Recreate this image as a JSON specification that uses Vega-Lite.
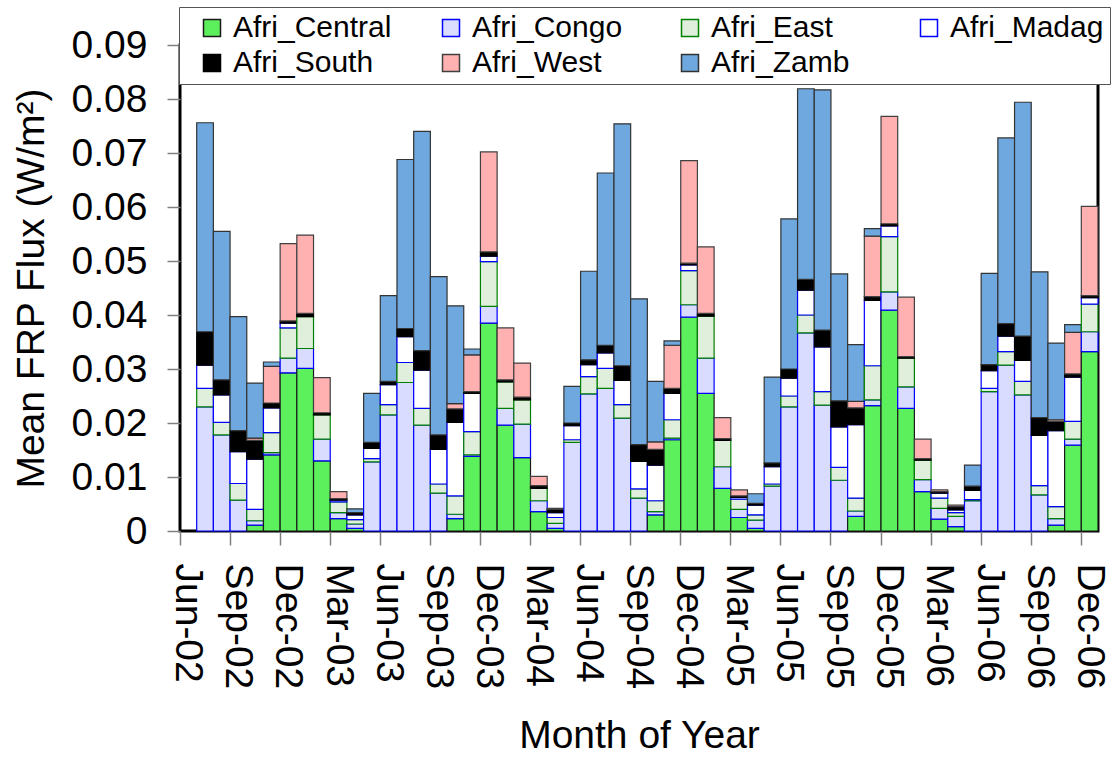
{
  "$schema": "https://vega.github.io/schema/vega-lite/v6.json",
  "width": 918,
  "height": 486,
  "autosize": {"type": "none"},
  "padding": {"left": 180, "top": 45, "right": 13, "bottom": 229},
  "background": "white",
  "config": {
    "font": "Liberation Sans",
    "view": {"stroke": "#000000", "strokeWidth": 3},
    "axis": {"grid": false, "domain": false, "labelFont": "Liberation Sans", "titleFont": "Liberation Sans", "labelColor": "#000000", "titleColor": "#000000", "titleFontWeight": "normal", "tickColor": "#808080", "tickWidth": 1.5}
  },
  "data": {"values": [
    {"month": "Jul-02", "Afri_Congo": 0.0230, "Afri_East": 0.0034, "Afri_Madag": 0.0043, "Afri_South": 0.0062, "Afri_Zamb": 0.0387},
    {"month": "Aug-02", "Afri_Congo": 0.0178, "Afri_East": 0.0023, "Afri_Madag": 0.0051, "Afri_South": 0.0028, "Afri_Zamb": 0.0275},
    {"month": "Sep-02", "Afri_Congo": 0.0057, "Afri_East": 0.0031, "Afri_Madag": 0.0059, "Afri_South": 0.0039, "Afri_Zamb": 0.0211},
    {"month": "Oct-02", "Afri_Central": 0.0011, "Afri_Congo": 0.0008, "Afri_East": 0.0021, "Afri_Madag": 0.0093, "Afri_South": 0.0035, "Afri_West": 0.0004, "Afri_Zamb": 0.0102},
    {"month": "Nov-02", "Afri_Central": 0.0141, "Afri_Congo": 0.0004, "Afri_East": 0.0037, "Afri_Madag": 0.0046, "Afri_South": 0.0009, "Afri_West": 0.0068, "Afri_Zamb": 0.0008},
    {"month": "Dec-02", "Afri_Central": 0.0293, "Afri_Congo": 0.0027, "Afri_East": 0.0056, "Afri_Madag": 0.0009, "Afri_South": 0.0004, "Afri_West": 0.0143},
    {"month": "Jan-03", "Afri_Central": 0.0301, "Afri_Congo": 0.0037, "Afri_East": 0.0059, "Afri_South": 0.0006, "Afri_West": 0.0145},
    {"month": "Feb-03", "Afri_Central": 0.0130, "Afri_Congo": 0.0040, "Afri_East": 0.0045, "Afri_South": 0.0004, "Afri_West": 0.0065},
    {"month": "Mar-03", "Afri_Central": 0.0023, "Afri_Congo": 0.0011, "Afri_East": 0.0020, "Afri_Madag": 0.0003, "Afri_South": 0.0003, "Afri_West": 0.0013},
    {"month": "Apr-03", "Afri_Central": 0.0005, "Afri_Congo": 0.0008, "Afri_East": 0.0008, "Afri_Madag": 0.0009, "Afri_South": 0.0004, "Afri_Zamb": 0.0007},
    {"month": "May-03", "Afri_Congo": 0.0128, "Afri_East": 0.0006, "Afri_Madag": 0.0019, "Afri_South": 0.0011, "Afri_Zamb": 0.0091},
    {"month": "Jun-03", "Afri_Congo": 0.0215, "Afri_East": 0.0019, "Afri_Madag": 0.0037, "Afri_South": 0.0006, "Afri_Zamb": 0.0159},
    {"month": "Jul-03", "Afri_Congo": 0.0275, "Afri_East": 0.0037, "Afri_Madag": 0.0048, "Afri_South": 0.0015, "Afri_Zamb": 0.0313},
    {"month": "Aug-03", "Afri_Congo": 0.0196, "Afri_East": 0.0031, "Afri_Madag": 0.0071, "Afri_South": 0.0036, "Afri_Zamb": 0.0406},
    {"month": "Sep-03", "Afri_Congo": 0.0070, "Afri_East": 0.0017, "Afri_Madag": 0.0064, "Afri_South": 0.0027, "Afri_Zamb": 0.0293},
    {"month": "Oct-03", "Afri_Central": 0.0023, "Afri_Congo": 0.0008, "Afri_East": 0.0034, "Afri_Madag": 0.0136, "Afri_South": 0.0025, "Afri_West": 0.0010, "Afri_Zamb": 0.0181},
    {"month": "Nov-03", "Afri_Central": 0.0138, "Afri_Congo": 0.0003, "Afri_East": 0.0043, "Afri_Madag": 0.0071, "Afri_South": 0.0003, "Afri_West": 0.0068, "Afri_Zamb": 0.0011},
    {"month": "Dec-03", "Afri_Central": 0.0385, "Afri_Congo": 0.0031, "Afri_East": 0.0083, "Afri_Madag": 0.0010, "Afri_South": 0.0008, "Afri_West": 0.0185},
    {"month": "Jan-04", "Afri_Central": 0.0196, "Afri_Congo": 0.0031, "Afri_East": 0.0049, "Afri_South": 0.0004, "Afri_West": 0.0096},
    {"month": "Feb-04", "Afri_Central": 0.0136, "Afri_Congo": 0.0062, "Afri_East": 0.0045, "Afri_South": 0.0005, "Afri_West": 0.0063},
    {"month": "Mar-04", "Afri_Central": 0.0036, "Afri_Congo": 0.0020, "Afri_East": 0.0023, "Afri_South": 0.0005, "Afri_West": 0.0017},
    {"month": "Apr-04", "Afri_Central": 0.0005, "Afri_Congo": 0.0009, "Afri_East": 0.0011, "Afri_Madag": 0.0009, "Afri_South": 0.0006, "Afri_West": 0.0002},
    {"month": "May-04", "Afri_Congo": 0.0164, "Afri_East": 0.0005, "Afri_Madag": 0.0026, "Afri_South": 0.0005, "Afri_Zamb": 0.0068},
    {"month": "Jun-04", "Afri_Congo": 0.0254, "Afri_East": 0.0032, "Afri_Madag": 0.0022, "Afri_South": 0.0009, "Afri_Zamb": 0.0164},
    {"month": "Jul-04", "Afri_Congo": 0.0264, "Afri_East": 0.0037, "Afri_Madag": 0.0029, "Afri_South": 0.0014, "Afri_Zamb": 0.0319},
    {"month": "Aug-04", "Afri_Congo": 0.0209, "Afri_East": 0.0025, "Afri_Madag": 0.0045, "Afri_South": 0.0027, "Afri_Zamb": 0.0448},
    {"month": "Sep-04", "Afri_Congo": 0.0061, "Afri_East": 0.0017, "Afri_Madag": 0.0051, "Afri_South": 0.0031, "Afri_Zamb": 0.0270},
    {"month": "Oct-04", "Afri_Central": 0.0030, "Afri_Congo": 0.0006, "Afri_East": 0.0020, "Afri_Madag": 0.0066, "Afri_South": 0.0029, "Afri_West": 0.0014, "Afri_Zamb": 0.0112},
    {"month": "Nov-04", "Afri_Central": 0.0169, "Afri_Congo": 0.0003, "Afri_East": 0.0034, "Afri_Madag": 0.0049, "Afri_South": 0.0009, "Afri_West": 0.0080, "Afri_Zamb": 0.0008},
    {"month": "Dec-04", "Afri_Central": 0.0396, "Afri_Congo": 0.0023, "Afri_East": 0.0063, "Afri_Madag": 0.0011, "Afri_South": 0.0003, "Afri_West": 0.0190},
    {"month": "Jan-05", "Afri_Central": 0.0255, "Afri_Congo": 0.0065, "Afri_East": 0.0078, "Afri_South": 0.0005, "Afri_West": 0.0123},
    {"month": "Feb-05", "Afri_Central": 0.0079, "Afri_Congo": 0.0040, "Afri_East": 0.0049, "Afri_South": 0.0003, "Afri_West": 0.0039},
    {"month": "Mar-05", "Afri_Central": 0.0025, "Afri_Congo": 0.0015, "Afri_East": 0.0019, "Afri_Madag": 0.0003, "Afri_South": 0.0003, "Afri_West": 0.0011},
    {"month": "Apr-05", "Afri_Central": 0.0005, "Afri_Congo": 0.0015, "Afri_East": 0.0010, "Afri_Madag": 0.0018, "Afri_South": 0.0003, "Afri_Zamb": 0.0018},
    {"month": "May-05", "Afri_Congo": 0.0083, "Afri_East": 0.0004, "Afri_Madag": 0.0032, "Afri_South": 0.0007, "Afri_Zamb": 0.0159},
    {"month": "Jun-05", "Afri_Congo": 0.0230, "Afri_East": 0.0020, "Afri_Madag": 0.0033, "Afri_South": 0.0017, "Afri_Zamb": 0.0278},
    {"month": "Jul-05", "Afri_Congo": 0.0367, "Afri_East": 0.0033, "Afri_Madag": 0.0046, "Afri_South": 0.0020, "Afri_Zamb": 0.0353},
    {"month": "Aug-05", "Afri_Congo": 0.0233, "Afri_East": 0.0025, "Afri_Madag": 0.0083, "Afri_South": 0.0031, "Afri_Zamb": 0.0445},
    {"month": "Sep-05", "Afri_Congo": 0.0094, "Afri_East": 0.0024, "Afri_Madag": 0.0075, "Afri_South": 0.0048, "Afri_Zamb": 0.0235},
    {"month": "Oct-05", "Afri_Central": 0.0027, "Afri_Congo": 0.0010, "Afri_East": 0.0024, "Afri_Madag": 0.0136, "Afri_South": 0.0031, "Afri_West": 0.0012, "Afri_Zamb": 0.0105},
    {"month": "Nov-05", "Afri_Central": 0.0232, "Afri_Congo": 0.0011, "Afri_East": 0.0063, "Afri_Madag": 0.0121, "Afri_South": 0.0007, "Afri_West": 0.0112, "Afri_Zamb": 0.0014},
    {"month": "Dec-05", "Afri_Central": 0.0409, "Afri_Congo": 0.0034, "Afri_East": 0.0102, "Afri_Madag": 0.0020, "Afri_South": 0.0004, "Afri_West": 0.0199},
    {"month": "Jan-06", "Afri_Central": 0.0227, "Afri_Congo": 0.0040, "Afri_East": 0.0053, "Afri_South": 0.0003, "Afri_West": 0.0110},
    {"month": "Feb-06", "Afri_Central": 0.0073, "Afri_Congo": 0.0022, "Afri_East": 0.0036, "Afri_South": 0.0003, "Afri_West": 0.0036},
    {"month": "Mar-06", "Afri_Central": 0.0022, "Afri_Congo": 0.0020, "Afri_East": 0.0019, "Afri_Madag": 0.0009, "Afri_South": 0.0003, "Afri_West": 0.0003},
    {"month": "Apr-06", "Afri_Central": 0.0008, "Afri_Congo": 0.0019, "Afri_East": 0.0007, "Afri_Madag": 0.0005, "Afri_South": 0.0006, "Afri_West": 0.0003},
    {"month": "May-06", "Afri_Congo": 0.0056, "Afri_East": 0.0002, "Afri_Madag": 0.0017, "Afri_South": 0.0008, "Afri_Zamb": 0.0039},
    {"month": "Jun-06", "Afri_Congo": 0.0258, "Afri_East": 0.0006, "Afri_Madag": 0.0033, "Afri_South": 0.0011, "Afri_Zamb": 0.0169},
    {"month": "Jul-06", "Afri_Congo": 0.0307, "Afri_East": 0.0025, "Afri_Madag": 0.0029, "Afri_South": 0.0023, "Afri_Zamb": 0.0344},
    {"month": "Aug-06", "Afri_Congo": 0.0252, "Afri_East": 0.0025, "Afri_Madag": 0.0039, "Afri_South": 0.0045, "Afri_Zamb": 0.0433},
    {"month": "Sep-06", "Afri_Congo": 0.0067, "Afri_East": 0.0017, "Afri_Madag": 0.0093, "Afri_South": 0.0033, "Afri_Zamb": 0.0270},
    {"month": "Oct-06", "Afri_Central": 0.0011, "Afri_Congo": 0.0012, "Afri_East": 0.0022, "Afri_Madag": 0.0141, "Afri_South": 0.0017, "Afri_West": 0.0003, "Afri_Zamb": 0.0142},
    {"month": "Nov-06", "Afri_Central": 0.0159, "Afri_Congo": 0.0011, "Afri_East": 0.0033, "Afri_Madag": 0.0082, "Afri_South": 0.0006, "Afri_West": 0.0077, "Afri_Zamb": 0.0014},
    {"month": "Dec-06", "Afri_Central": 0.0332, "Afri_Congo": 0.0037, "Afri_East": 0.0051, "Afri_Madag": 0.0012, "Afri_South": 0.0004, "Afri_West": 0.0165}
  ]},
  "transform": [
    {"fold": ["Afri_Central", "Afri_Congo", "Afri_East", "Afri_Madag", "Afri_South", "Afri_West", "Afri_Zamb"], "as": ["region", "flux"]},
    {"filter": "isValid(datum.flux) && datum.flux > 0"}
  ],
  "mark": {"type": "bar", "strokeWidth": 1.2},
  "encoding": {
    "x": {
      "field": "month", "type": "ordinal",
      "scale": {"domain": ["Jun-02","Jul-02","Aug-02","Sep-02","Oct-02","Nov-02","Dec-02","Jan-03","Feb-03","Mar-03","Apr-03","May-03","Jun-03","Jul-03","Aug-03","Sep-03","Oct-03","Nov-03","Dec-03","Jan-04","Feb-04","Mar-04","Apr-04","May-04","Jun-04","Jul-04","Aug-04","Sep-04","Oct-04","Nov-04","Dec-04","Jan-05","Feb-05","Mar-05","Apr-05","May-05","Jun-05","Jul-05","Aug-05","Sep-05","Oct-05","Nov-05","Dec-05","Jan-06","Feb-06","Mar-06","Apr-06","May-06","Jun-06","Jul-06","Aug-06","Sep-06","Oct-06","Nov-06","Dec-06"], "paddingInner": 0, "paddingOuter": 0},
      "axis": {
        "values": ["Jun-02","Sep-02","Dec-02","Mar-03","Jun-03","Sep-03","Dec-03","Mar-04","Jun-04","Sep-04","Dec-04","Mar-05","Jun-05","Sep-05","Dec-05","Mar-06","Jun-06","Sep-06","Dec-06"],
        "bandPosition": 0, "labelAngle": 90, "labelFontSize": 39, "tickSize": 14, "labelPadding": 18,
        "title": "Month of Year", "titleFontSize": 39, "titlePadding": 28
      }
    },
    "y": {
      "field": "flux", "type": "quantitative", "stack": "zero",
      "scale": {"domain": [0, 0.09], "nice": false},
      "axis": {
        "values": [0, 0.01, 0.02, 0.03, 0.04, 0.05, 0.06, 0.07, 0.08, 0.09],
        "labelExpr": "datum.value == 0 ? '0' : format(datum.value, '.2f')",
        "labelFontSize": 39, "tickSize": 13, "labelPadding": 20,
        "title": "Mean FRP Flux (W/m²)", "titleFontSize": 39, "titlePadding": 20
      }
    },
    "fill": {
      "field": "region", "type": "nominal",
      "scale": {"domain": ["Afri_Central", "Afri_Congo", "Afri_East", "Afri_Madag", "Afri_South", "Afri_West", "Afri_Zamb"],
                "range": ["#5cf05c", "#d9dbff", "#e0efdc", "#ffffff", "#000000", "#ffb0b0", "#6ea8de"]},
      "legend": {"orient": "none", "legendX": -1, "legendY": -38, "direction": "horizontal", "columns": 4, "title": null,
                 "labelFontSize": 30, "labelFont": "Liberation Sans", "labelColor": "#000000", "symbolType": "square", "symbolSize": 289,
                 "symbolStrokeWidth": 1.5, "fillColor": "#ffffff", "strokeColor": "#555555", "padding": 6, "rowPadding": 5,
                 "columnPadding": 32, "labelOffset": 6, "gridAlign": "all", "symbolOffset": 12, "labelLimit": 400}
    },
    "stroke": {
      "field": "region", "type": "nominal",
      "scale": {"domain": ["Afri_Central", "Afri_Congo", "Afri_East", "Afri_Madag", "Afri_South", "Afri_West", "Afri_Zamb"],
                "range": ["#1a1a1a", "#0000ff", "#008000", "#0000ff", "#000000", "#404040", "#333333"]},
      "legend": {"orient": "none", "legendX": -1, "legendY": -38, "direction": "horizontal", "columns": 4, "title": null,
                 "labelFontSize": 30, "labelFont": "Liberation Sans", "labelColor": "#000000", "symbolType": "square", "symbolSize": 289,
                 "symbolStrokeWidth": 1.5, "fillColor": "#ffffff", "strokeColor": "#555555", "padding": 6, "rowPadding": 5,
                 "columnPadding": 32, "labelOffset": 6, "gridAlign": "all", "symbolOffset": 12, "labelLimit": 400}
    },
    "order": {"field": "region", "sort": "ascending"}
  }
}
